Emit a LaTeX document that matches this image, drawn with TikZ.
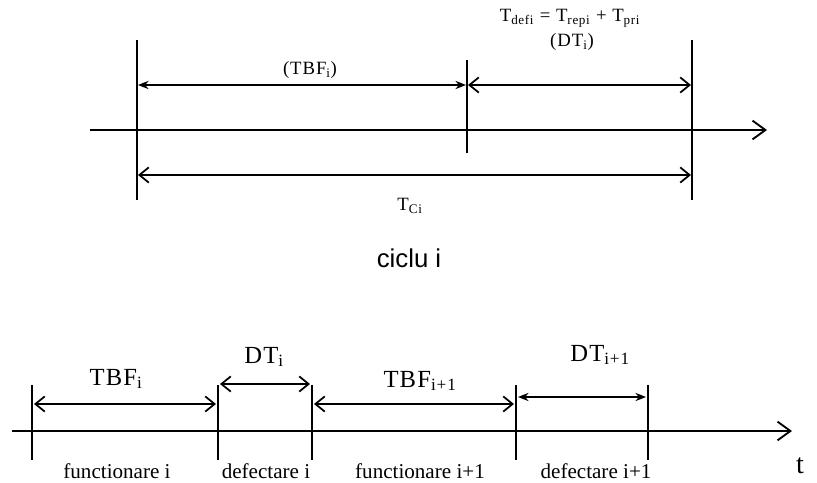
\documentclass[tikz,border=0pt]{standalone}
\usepackage{fontspec}
\setmainfont{Liberation Serif}
\newfontfamily\labelsans{Liberation Sans}
\usetikzlibrary{arrows.meta}

\begin{document}
\begin{tikzpicture}[x=0.03cm,y=-0.03cm,
			axisline/.style={line width=1.8pt,-{Straight Barb[length=11pt,width=16pt,line width=1.6pt]}},
			tickline/.style={line width=1.4pt},
			opendim/.style={line width=1.6pt,{Straight Barb[length=8pt,width=13pt,line width=1.5pt]}-{Straight Barb[length=8pt,width=13pt,line width=1.5pt]}},
			fulldim/.style={line width=1.6pt,{Stealth[length=9pt,width=7pt]}-{Stealth[length=9pt,width=7pt]}},
			toplbl/.style={font=\fontsize{16}{18}\selectfont\addfontfeature{LetterSpace=5},inner sep=0pt},
			biglbl/.style={font=\fontsize{21}{23}\selectfont\addfontfeature{LetterSpace=5},inner sep=0pt},
			stlbl/.style={font=\fontsize{18}{20}\selectfont,inner sep=0pt}
			]
			\useasboundingbox (0,0) rectangle (817,483);
			% ciclu i (sus)
			\coordinate (s0) at (90,130);
			\coordinate (s1) at (767,130);
			\coordinate (p1t) at (137,40);
			\coordinate (p1b) at (137,200);
			\coordinate (p2t) at (467,60);
			\coordinate (p2b) at (467,153);
			\coordinate (p3t) at (692,40);
			\coordinate (p3b) at (692,200);
			\coordinate (tbf1) at (138,85);
			\coordinate (tbf2) at (466,85);
			\coordinate (dt1) at (468,85);
			\coordinate (dt2) at (691,85);
			\coordinate (tc1) at (138,175);
			\coordinate (tc2) at (691,175);
			\draw[axisline] (s0) -- (s1);
			\draw[tickline] (p1t) -- (p1b);
			\draw[tickline] (p2t) -- (p2b);
			\draw[tickline] (p3t) -- (p3b);
			\draw[fulldim] (tbf1) -- (tbf2);
			\draw[opendim] (dt1) -- (dt2);
			\draw[opendim] (tc1) -- (tc2);
			\node[toplbl] (ltbf) at (310,70) {(TBF\textsubscript{i})};
			\node[toplbl] (ldef) at (570,18) {T\textsubscript{defi} = T\textsubscript{repi} + T\textsubscript{pri}};
			\node[toplbl] (ldt) at (572,42) {(DT\textsubscript{i})};
			\node[toplbl] (ltc) at (410,206) {T\textsubscript{Ci}};
			\node[font=\labelsans\fontsize{22}{24}\selectfont,inner sep=0pt] (ciclu) at (409,258) {ciclu i};
			%%%%%%%%%%%%%%%
			% succesiunea de cicluri (jos)
			\coordinate (a0) at (12,431);
			\coordinate (a1) at (792,431);
			\foreach \n/\x in {1/32,2/218,3/312,4/516,5/648}{
				\coordinate (q\n t) at (\x,385);
				\coordinate (q\n b) at (\x,460);
				\draw[tickline] (q\n t) -- (q\n b);
			}
			\draw[axisline] (a0) -- (a1);
			\coordinate (b1) at (34,404);
			\coordinate (b2) at (216,404);
			\coordinate (c1) at (220,384);
			\coordinate (c2) at (310,384);
			\coordinate (d1) at (314,404);
			\coordinate (d2) at (514,404);
			\coordinate (e1) at (518,397);
			\coordinate (e2) at (646,397);
			\draw[opendim] (b1) -- (b2);
			\draw[opendim] (c1) -- (c2);
			\draw[opendim] (d1) -- (d2);
			\draw[fulldim] (e1) -- (e2);
			\node[biglbl] (ltbfi) at (116,379) {TBF\textsubscript{i}};
			\node[biglbl] (ldti) at (264,357) {DT\textsubscript{i}};
			\node[biglbl] (ltbfn) at (420,381) {TBF\textsubscript{i+1}};
			\node[biglbl] (ldtn) at (600,355) {DT\textsubscript{i+1}};
			\node[stlbl] (f1) at (117,471) {functionare i};
			\node[stlbl] (d1l) at (266,471) {defectare i};
			\node[stlbl] (f2) at (420,471) {functionare i+1};
			\node[stlbl] (d2l) at (596,471) {defectare i+1};
			\node[font=\fontsize{24}{26}\selectfont,inner sep=0pt] (t) at (800,466) {t};
		\end{tikzpicture}
\end{document}
